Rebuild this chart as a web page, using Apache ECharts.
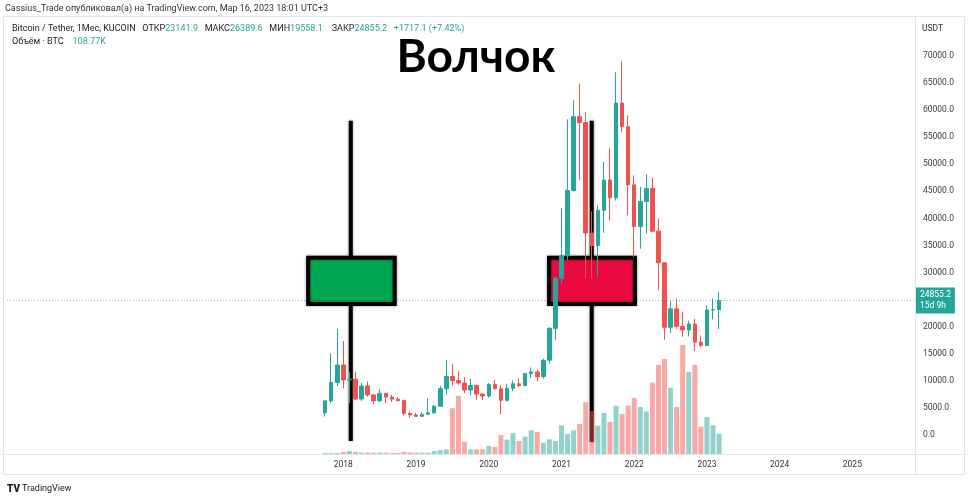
<!DOCTYPE html>
<html><head><meta charset="utf-8">
<script src="https://cdn.jsdelivr.net/npm/echarts@6/dist/echarts.min.js"></script>
<style>html,body{margin:0;padding:0;background:#fff}#c{width:968px;height:500px}</style>
</head><body><div id="c"></div><script>
// ---- data (monthly BTC/USDT, KuCoin) ----
const months = ['2017-10','2017-11','2017-12','2018-01','2018-02','2018-03','2018-04','2018-05','2018-06','2018-07','2018-08','2018-09','2018-10','2018-11','2018-12',
'2019-01','2019-02','2019-03','2019-04','2019-05','2019-06','2019-07','2019-08','2019-09','2019-10','2019-11','2019-12',
'2020-01','2020-02','2020-03','2020-04','2020-05','2020-06','2020-07','2020-08','2020-09','2020-10','2020-11','2020-12',
'2021-01','2021-02','2021-03','2021-04','2021-05','2021-06','2021-07','2021-08','2021-09','2021-10','2021-11','2021-12',
'2022-01','2022-02','2022-03','2022-04','2022-05','2022-06','2022-07','2022-08','2022-09','2022-10','2022-11','2022-12',
'2023-01','2023-02','2023-03'];
const opens = [4120,6300,9700,12930,10160,10300,6650,9050,7400,6300,7700,7000,6620,6350,4000,
3700,3440,3820,4100,5300,8550,10800,10050,9600,8300,9150,7550,
7200,9350,8550,6400,8620,9450,9140,11350,11650,10780,13800,19700,
28950,33100,45150,58800,57700,37300,35000,41500,47100,43800,61300,56950,
46200,38500,43150,45550,37650,31800,19900,23300,20050,19400,20500,17150,
16550,23100,23141.9];
const highs = [6350,15090,19580,17360,11700,11700,9660,9850,7600,8450,7750,7400,7000,6550,4300,
4100,4200,6780,5550,9050,13850,13150,11800,10700,10400,9300,7750,
9580,10200,9200,9450,10060,10400,11450,12470,12070,14100,19900,29300,
41870,58300,61800,64900,59600,41300,42400,50500,52900,67000,69000,59050,
47950,45850,48200,47500,40000,31950,24700,25200,22800,21100,21450,18400,
23950,25250,26389.6];
const lows = [3400,5850,9050,8620,5850,6470,6280,7070,5700,6100,5880,6100,6200,3600,3200,
3350,3400,3700,3950,5300,7500,9100,9300,7750,7300,6500,6450,
6900,8450,3850,6150,8110,8900,8970,10520,9880,10380,13200,17570,
28000,32300,44950,47100,29000,28800,29300,37350,39600,43300,56000,40600,
32900,34400,37200,37400,26700,17600,18800,19550,18150,18200,15500,16250,
16500,21350,19558.1];
const closes = [6300,9700,12930,10160,10300,6650,9050,7400,6300,7700,7000,6620,6350,4000,3700,
3440,3820,4100,5300,8550,10800,10050,9600,8300,9150,7550,7200,
9350,8550,6400,8620,9450,9140,11350,11650,10780,13800,19700,28950,
33100,45150,58800,57700,37300,35000,41500,47100,43800,61300,56950,46200,
38500,43150,45550,37650,31800,19900,23300,20050,19400,20500,17150,16550,
23100,23141.9,24855.2];
// volume, thousands of BTC
const volumes = [5,5,5,11,16,11,8,8,7,7,7,5,5,11,8,
7,7,7,16,21,25,245,312,66,25,25,25,
43,39,102,77,113,70,93,127,118,61,79,70,
154,107,127,161,277,230,152,220,172,259,214,259,
300,252,227,382,477,509,355,252,584,440,477,146,
198,154,108.77];
const yearLabels = ['2018','2019','2020','2021','2022','2023','2024','2025'];
const lastPrice = 24855.2;
const countdown = '15d 9h';
// hand-drawn "spinning top" figures, in chart units: x in months from the first candle, prices for wick top, box top, box bottom, wick bottom
const topX0 = [-2.8, 36.95];
const topX1 = [11.48, 51.12];
const topXW = [4.23, 43.99];
const topWickHi = [58050, 58050];
const topBoxHi = [32750, 32750];
const topBoxLo = [24200, 24200];
const topWickLo = [-1100, -1300];

// ---- axis range (months shown on the time scale) ----
const axisMonths = [];
(function(){ let y = 2013, m = 6; for (let i = 0; i < 150; i++) { axisMonths.push(y + '-' + String(m).padStart(2,'0')); m++; if (m > 12) { m = 1; y++; } } })();
const firstIdx = axisMonths.indexOf(months[0]);

const UP = '#26a69a', DOWN = '#ef5350';
const UPV = 'rgba(38,166,154,0.5)', DOWNV = 'rgba(239,83,80,0.5)';
const TOP_FILL = ['#00a651', '#ea0a3f'];
const FONT = 'Roboto, "Noto Sans", sans-serif';

const candleData = months.map((m, i) => [m, opens[i], closes[i], lows[i], highs[i]]);
const volData = months.map((m, i) => [m, volumes[i]]);
const topData = topX0.map((v, i) => [firstIdx, v, topX1[i], topXW[i], topWickHi[i], topBoxHi[i], topBoxLo[i], topWickLo[i]]);

const chart = echarts.init(document.getElementById('c'), null, {renderer: 'canvas'});
chart.setOption({
  animation: false,
  backgroundColor: '#fff',
  grid: [
    {left: 7, right: 52, top: 1.86, bottom: 37.93},
    {left: 7, right: 52, top: 314, bottom: 46}
  ],
  xAxis: [
    {type: 'category', gridIndex: 0, data: axisMonths, show: false, boundaryGap: true},
    {type: 'category', gridIndex: 1, data: axisMonths, boundaryGap: true,
      axisLine: {show: false}, axisTick: {show: false}, splitLine: {show: false},
      axisLabel: {
        interval: (idx, val) => val.slice(5) === '01' && yearLabels.indexOf(val.slice(0, 4)) >= 0,
        formatter: v => v.slice(0, 4), color: '#333', fontSize: 8.5, fontFamily: FONT, margin: 6
      }}
  ],
  yAxis: [
    {type: 'value', gridIndex: 0, position: 'right', min: -5000, max: 80000, interval: 5000,
      axisLine: {show: false}, axisTick: {show: false}, splitLine: {show: false},
      axisLabel: {color: '#3a3a3a', fontSize: 8.5, fontFamily: FONT, margin: 7,
        formatter: v => (v >= 0 && v <= 70000 && v !== 25000) ? v.toFixed(1) : ''}},
    {type: 'value', gridIndex: 1, min: 0, max: 750, show: false, splitLine: {show: false}}
  ],
  series: [
    {
      type: 'custom', xAxisIndex: 0, yAxisIndex: 0, z: 2, silent: true, clip: false,
      data: topData,
      encode: {x: 0, y: 5},
      renderItem: (params, api) => {
        const base = api.value(0);
        const bw = api.size([1, 0])[0];
        const X = v => { const t = base + v; const f = Math.floor(t); return api.coord([f, 0])[0] + (t - f) * bw; };
        const Y = v => api.coord([0, v])[1];
        const x0 = X(api.value(1)), x1 = X(api.value(2)), xw = X(api.value(3));
        const yWH = Y(api.value(4)), yBH = Y(api.value(5)), yBL = Y(api.value(6)), yWL = Y(api.value(7));
        const ls = {stroke: '#000', lineWidth: 4, shadowBlur: 3, shadowColor: 'rgba(0,0,0,0.45)'};
        return {type: 'group', children: [
          {type: 'line', shape: {x1: xw, y1: yWH, x2: xw, y2: yBH}, style: ls},
          {type: 'line', shape: {x1: xw, y1: yBL, x2: xw, y2: yWL}, style: ls},
          {type: 'rect', shape: {x: x0, y: yBH, width: x1 - x0, height: yBL - yBH},
            style: {fill: TOP_FILL[params.dataIndex], stroke: '#000', lineWidth: 4, shadowBlur: 3, shadowColor: 'rgba(0,0,0,0.4)'}}
        ]};
      }
    },
    {
      type: 'bar', xAxisIndex: 1, yAxisIndex: 1, z: 3, barWidth: 5, silent: true,
      data: volData, encode: {x: 0, y: 1},
      itemStyle: {color: p => closes[p.dataIndex] >= opens[p.dataIndex] ? UPV : DOWNV}
    },
    {
      type: 'candlestick', xAxisIndex: 0, yAxisIndex: 0, z: 4, barWidth: 4, silent: true,
      data: candleData, encode: {x: 0, y: [1, 2, 3, 4]},
      itemStyle: {color: UP, color0: DOWN, borderColor: UP, borderColor0: DOWN, borderWidth: 1},
      markLine: {
        z: 1, silent: true, symbol: ['none', 'none'], animation: false,
        lineStyle: {color: 'rgba(38,166,154,0.6)', type: [1, 2], width: 1},
        label: {position: 'end', distance: 0, formatter: lastPrice.toFixed(1) + '\n' + countdown,
          backgroundColor: UP, color: '#fff', fontSize: 8.5, fontFamily: FONT, lineHeight: 11, padding: [2, 4, 2, 4], align: 'left'},
        data: [{yAxis: lastPrice}]
      }
    }
  ],
  graphic: [
    {type: 'rect', shape: {x: 3.5, y: 16.5, width: 961, height: 458}, style: {fill: 'none', stroke: '#e0e3eb', lineWidth: 1}, z: -1},
    {type: 'line', shape: {x1: 915.5, y1: 16.5, x2: 915.5, y2: 474.5}, style: {stroke: '#e0e3eb', lineWidth: 1}, z: -1},
    {type: 'line', shape: {x1: 3.5, y1: 454.5, x2: 964.5, y2: 454.5}, style: {stroke: '#e0e3eb', lineWidth: 1}, z: -1},
    {type: 'text', left: 5, top: 4, style: {text: 'Cassius_Trade опубликовал(а) на TradingView.com, Мар 16, 2023 18:01 UTC+3', fontSize: 9, fontFamily: FONT, fill: '#333'}},
    {type: 'text', left: 12, top: 24, style: {
      text: '{n|Bitcoin / Tether, 1Мес, KUCOIN}   {n|ОТКР}{v|23141.9}   {n|МАКС}{v|26389.6}   {n|МИН}{v|19558.1}    {n|ЗАКР}{v|24855.2}   {v|+1717.1 (+7.42%)}',
      fontSize: 9, fontFamily: FONT,
      rich: {n: {fill: '#222', fontSize: 9, fontFamily: FONT}, v: {fill: UP, fontSize: 9, fontFamily: FONT}}}},
    {type: 'text', left: 12, top: 37, style: {
      text: '{n|Объём · BTC}    {v|108.77K}', fontSize: 9, fontFamily: FONT,
      rich: {n: {fill: '#222', fontSize: 9, fontFamily: FONT}, v: {fill: UP, fontSize: 9, fontFamily: FONT}}}},
    {type: 'text', left: 922, top: 24, style: {text: 'USDT', fontSize: 8.5, fontFamily: FONT, fill: '#333'}},
    {type: 'text', x: 476, y: 57, style: {text: 'Волчок', fontSize: 46, fontWeight: 'bold', fontFamily: 'Lato, "Noto Sans", sans-serif', fill: '#000', align: 'center', verticalAlign: 'middle'}},
    {type: 'text', left: 7, top: 484, style: {text: 'TV', fontSize: 10, fontWeight: 900, fontFamily: FONT, fill: '#131722'}},
    {type: 'text', left: 22, top: 484, style: {text: 'TradingView', fontSize: 9, fontFamily: FONT, fill: '#131722'}}
  ]
});
</script></body></html>
